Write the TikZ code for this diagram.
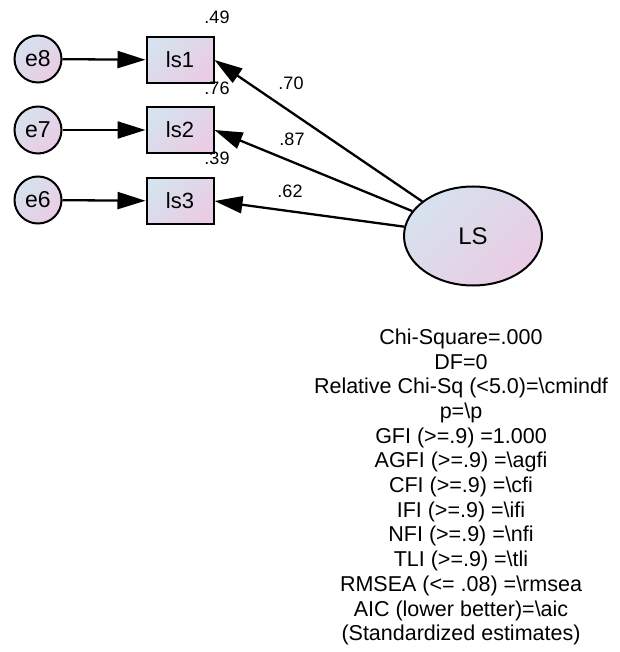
\documentclass[tikz,border=0pt]{standalone}
\usepackage{fontspec}
\setmainfont{Liberation Sans}
\usetikzlibrary{arrows.meta,%
                shapes.geometric,positioning}
\definecolor{semA}{RGB}{214,226,238}
\definecolor{semB}{RGB}{234,204,228}

\begin{document}
\begin{tikzpicture}[x=1pt,y=-1pt,
  lat/.style={draw,line width=2pt,top color=semA,bottom color=semB,shading angle=45},
  err/.style={lat,circle,minimum size=47pt,inner sep=0pt,font=\fontsize{23}{26}\selectfont},
  obs/.style={lat,rectangle,minimum width=67pt,minimum height=46pt,font=\fontsize{22}{26}\selectfont},
  fac/.style={lat,ellipse,minimum width=138pt,minimum height=99pt,font=\fontsize{24}{28}\selectfont},
  est/.style={font=\fontsize{18}{21}\selectfont,inner sep=0pt},
  reg/.style={line width=2.3pt,-{Triangle[length=28pt,width=17pt]}}]
\useasboundingbox (0,0) rectangle (619,652);
%\draw[help lines] (0,0) rectangle (619,652);
\node[err] (e8) at (38,59) {e8};
\node[err] (e7) at (38,130) {e7};
\node[err] (e6) at (38,200) {e6};
\node[obs] (ls1) at (180,60) {ls1};
\node[obs] (ls2) at (180,130) {ls2};
\node[obs] (ls3) at (180,201) {ls3};
\node[fac] (LS) at (473,236) {LS};
\node[est] (r1) at (217,17) {.49};
\node[est] (r2) at (217,88) {.76};
\node[est] (r3) at (217,158) {.39};
\node[est] (w1) at (291,83) {.70};
\node[est] (w2) at (292,139) {.87};
\node[est] (w3) at (290,191) {.62};
\draw[reg] (e8) -- (ls1);
\draw[reg] (e7) -- (ls2);
\draw[reg] (e6) -- (ls3);
\draw[reg] (LS) -- (ls1.east);
\draw[reg] (LS) -- (ls2.east);
\draw[reg] (LS) -- (ls3.east);
\node[font=\fontsize{21.5}{24.7}\selectfont,align=center] (fit) at (461,487)
  {Chi-Square=.000\\DF=0\\Relative Chi-Sq (<5.0)=\textbackslash cmindf\\
   p=\textbackslash p\\GFI (>=.9) =1.000\\AGFI (>=.9) =\textbackslash agfi\\
   CFI (>=.9) =\textbackslash cfi\\IFI (>=.9) =\textbackslash ifi\\
   NFI (>=.9) =\textbackslash nfi\\TLI (>=.9) =\textbackslash tli\\
   RMSEA (<= .08) =\textbackslash rmsea\\AIC (lower better)=\textbackslash aic\\
   (Standardized estimates)};
\end{tikzpicture}
\end{document}
